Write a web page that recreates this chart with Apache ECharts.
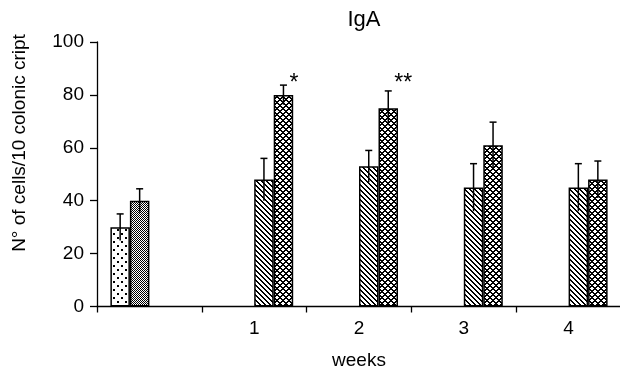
<!DOCTYPE html>
<html>
<head>
<meta charset="utf-8">
<script src="https://cdn.jsdelivr.net/npm/echarts@6/dist/echarts.min.js"></script>
<style>html,body{margin:0;padding:0;background:#fff;}#c{width:620px;height:371px;}</style>
</head>
<body>
<div id="c"></div>
<script>
// ---- data ----
var categories = ['', '1', '2', '3', '4'];
var yTicks = [0, 20, 40, 60, 80, 100];
var controlA = [30, null, null, null, null];
var controlAErr = [5, null, null, null, null];
var controlB = [40, null, null, null, null];
var controlBErr = [4.5, null, null, null, null];
var groupA = [null, 48, 53, 45, 45];
var groupAErr = [null, 8, 6, 9, 9];
var groupB = [null, 80, 75, 61, 48];
var groupBErr = [null, 3.7, 6.5, 8.7, 7];
var groupBSig = ['', '*', '**', '', ''];

// ---- styling ----
var FONT = 'Liberation Sans, Arial, sans-serif';
var BAR_W = 19.5;
var SIG_LEVEL = 84.2;

function makeTile(w, h, draw) {
  var c = document.createElement('canvas');
  c.width = w; c.height = h;
  var ctx = c.getContext('2d');
  ctx.fillStyle = '#fff'; ctx.fillRect(0, 0, w, h);
  ctx.fillStyle = '#000';
  draw(ctx, w, h);
  return {image: c, repeat: 'repeat'};
}
var dotsPat = makeTile(8, 8, function (ctx) {
  ctx.fillRect(1, 1, 2, 2); ctx.fillRect(5, 5, 2, 2);
});
var densePat = makeTile(2, 2, function (ctx) {
  ctx.fillRect(0, 0, 1, 1); ctx.fillRect(1, 1, 1, 1);
});
var hatchPat = makeTile(5, 5, function (ctx) {
  for (var i = 0; i < 5; i++) { ctx.fillRect(i, i, 1, 1); ctx.fillRect((i + 1) % 5, i, 1, 1); }
});
var crossPat = makeTile(6, 6, function (ctx) {
  for (var i = 0; i < 6; i++) {
    ctx.fillRect(i, i, 1, 1);
    ctx.fillRect((6 - i) % 6, i, 1, 1);
    ctx.fillRect((i + 1) % 6, i, 1, 1);
    ctx.fillRect((7 - i) % 6, i, 1, 1);
  }
});

function barSeries(name, data, pat) {
  return {
    type: 'bar', name: name, data: data, barWidth: BAR_W, barGap: '0%',
    itemStyle: {color: pat, borderColor: '#000', borderWidth: 1.5},
    emphasis: {disabled: true}, silent: true, z: 2
  };
}

function errSeries(vals, errs, slot, sig) {
  var data = [];
  for (var i = 0; i < vals.length; i++) {
    if (vals[i] != null) data.push([i, vals[i], errs[i], sig ? sig[i] : '']);
  }
  return {
    type: 'custom', silent: true, z: 5,
    data: data,
    renderItem: function (params, api) {
      var cat = api.value(0), v = api.value(1), e = api.value(2);
      var sigTxt = sig ? data[params.dataIndex][3] : '';
      var base = api.coord([cat, v]);
      var x = base[0] + (slot - 1.5) * BAR_W;
      var top = api.coord([cat, v + e])[1];
      var bot = api.coord([cat, v - e])[1];
      var children = [
        {type: 'line', shape: {x1: x, y1: top, x2: x, y2: bot}, style: {stroke: '#000', lineWidth: 1.5}},
        {type: 'line', shape: {x1: x - 3.5, y1: top, x2: x + 3.5, y2: top}, style: {stroke: '#000', lineWidth: 1.5}}
      ];
      if (sigTxt) {
        var sy = api.coord([cat, SIG_LEVEL])[1];
        children.push({type: 'text', x: x + 6, y: sy,
          style: {text: sigTxt, fill: '#000', font: '23px ' + FONT, align: 'left', verticalAlign: 'middle'}});
      }
      return {type: 'group', children: children};
    }
  };
}

var chart = echarts.init(document.getElementById('c'), null, {renderer: 'canvas'});
chart.setOption({
  animation: false,
  backgroundColor: '#fff',
  textStyle: {fontFamily: FONT, color: '#000'},
  title: {
    text: 'IgA', left: 359, top: 4, textAlign: 'center',
    textStyle: {fontFamily: FONT, fontSize: 22, fontWeight: 'normal', color: '#000'}
  },
  grid: {left: 97, right: -1, top: 42, bottom: 64.5, containLabel: false, outerBoundsMode: 'none'},
  xAxis: {
    type: 'category', data: categories,
    name: 'weeks', nameLocation: 'middle', nameGap: 45,
    nameTextStyle: {fontFamily: FONT, fontSize: 19, color: '#000'},
    axisLine: {lineStyle: {color: '#000', width: 1.3}},
    axisTick: {show: true, interval: 0, alignWithLabel: false, length: 6, lineStyle: {color: '#000', width: 1.3}},
    axisLabel: {interval: 0, margin: 13, fontFamily: FONT, fontSize: 19, color: '#000'},
    splitLine: {show: false}
  },
  yAxis: {
    type: 'value', min: yTicks[0], max: yTicks[yTicks.length - 1], interval: yTicks[1] - yTicks[0],
    axisLine: {show: true, lineStyle: {color: '#000', width: 1.3}},
    axisTick: {show: true, length: 7, lineStyle: {color: '#000', width: 1.3}},
    axisLabel: {margin: 13, fontFamily: FONT, fontSize: 19, color: '#000'},
    splitLine: {show: false}
  },
  graphic: [{
    type: 'text', x: 20, y: 143, rotation: Math.PI / 2,
    style: {text: 'N° of cells/10 colonic cript', fill: '#000', font: '19px ' + FONT, align: 'center', verticalAlign: 'middle'}
  }],
  series: [
    barSeries('control A', controlA, dotsPat),
    barSeries('control B', controlB, densePat),
    barSeries('group A', groupA, hatchPat),
    barSeries('group B', groupB, crossPat),
    errSeries(controlA, controlAErr, 0, null),
    errSeries(controlB, controlBErr, 1, null),
    errSeries(groupA, groupAErr, 2, null),
    errSeries(groupB, groupBErr, 3, groupBSig)
  ]
});
</script>
</body>
</html>
